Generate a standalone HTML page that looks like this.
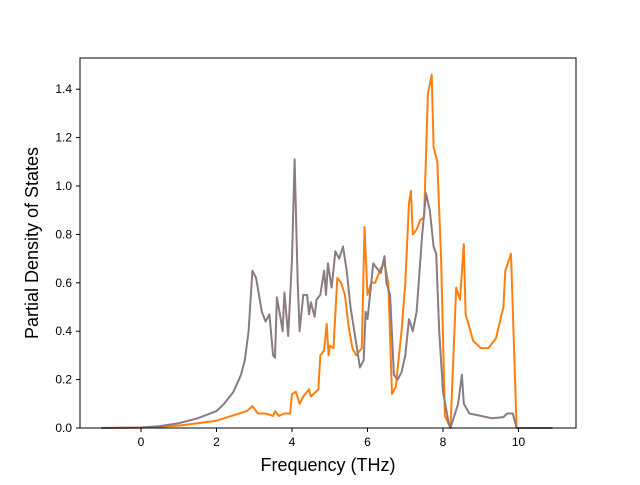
<!DOCTYPE html>
<html><head><meta charset="utf-8"><style>
body{margin:0;background:#fff}
svg text{font-family:"Liberation Sans","DejaVu Sans",sans-serif}
</style></head><body>
<svg id="chart" width="640" height="480" xmlns="http://www.w3.org/2000/svg">
<rect width="640" height="480" fill="#fff"/>
<g id="plot"></g>
<rect x="80" y="58" width="496" height="370" fill="none" stroke="#000" stroke-width="1"/>
<g id="axes"></g>
<text x="328" y="471" font-size="18" text-anchor="middle">Frequency (THz)</text>
<text transform="translate(38,243) rotate(-90)" font-size="18" text-anchor="middle">Partial Density of States</text>
</svg>
<script>
const xTicks=[0,2,4,6,8,10];
const yTicks=[0.0,0.2,0.4,0.6,0.8,1.0,1.2,1.4];
const grayF=[-1.06,0,0.5,1,1.5,2,2.2,2.45,2.65,2.75,2.85,2.95,3.05,3.2,3.3,3.4,3.5,3.55,3.6,3.7,3.75,3.8,3.9,4.0,4.07,4.15,4.2,4.3,4.4,4.45,4.5,4.6,4.65,4.75,4.85,4.9,4.95,5.05,5.15,5.25,5.35,5.45,5.55,5.7,5.8,5.9,5.95,6.0,6.1,6.15,6.25,6.35,6.45,6.5,6.6,6.7,6.8,6.9,7.0,7.1,7.2,7.3,7.45,7.55,7.65,7.75,7.82,7.9,8.0,8.15,8.2,8.3,8.4,8.5,8.55,8.7,9,9.3,9.6,9.7,9.85,9.95,10.9];
const grayV=[0,0.002,0.008,0.02,0.04,0.07,0.1,0.15,0.22,0.28,0.4,0.65,0.62,0.48,0.44,0.47,0.3,0.29,0.54,0.45,0.4,0.56,0.38,0.7,1.11,0.6,0.4,0.55,0.55,0.47,0.52,0.46,0.53,0.55,0.65,0.55,0.68,0.58,0.73,0.7,0.75,0.65,0.5,0.35,0.25,0.28,0.48,0.45,0.6,0.68,0.66,0.64,0.71,0.6,0.55,0.22,0.2,0.23,0.3,0.45,0.4,0.48,0.8,0.97,0.9,0.75,0.72,0.4,0.15,0.02,0,0.05,0.1,0.22,0.1,0.06,0.05,0.04,0.045,0.06,0.06,0,0];
const orangeF=[-1.06,0,1,1.5,2,2.4,2.8,2.95,3.1,3.3,3.5,3.55,3.65,3.8,3.95,4.0,4.1,4.2,4.3,4.45,4.5,4.7,4.75,4.85,4.92,4.97,5.0,5.1,5.2,5.3,5.4,5.5,5.6,5.7,5.85,5.92,6.0,6.1,6.2,6.35,6.45,6.55,6.65,6.75,6.9,7.0,7.1,7.15,7.2,7.3,7.4,7.5,7.6,7.7,7.75,7.85,7.95,8.05,8.2,8.35,8.45,8.55,8.6,8.8,9.0,9.2,9.4,9.6,9.65,9.8,9.95,10.9];
const orangeV=[0,0.001,0.01,0.02,0.03,0.05,0.07,0.09,0.06,0.06,0.05,0.07,0.05,0.06,0.06,0.14,0.15,0.1,0.13,0.16,0.13,0.16,0.3,0.32,0.43,0.3,0.34,0.33,0.62,0.6,0.55,0.42,0.33,0.3,0.33,0.83,0.55,0.6,0.6,0.66,0.68,0.6,0.14,0.17,0.4,0.6,0.93,0.98,0.8,0.82,0.86,0.87,1.38,1.46,1.16,1.1,0.7,0.05,0,0.58,0.53,0.76,0.47,0.36,0.33,0.33,0.37,0.5,0.65,0.72,0,0];
const X=f=>141+f*37.75, Y=v=>428-v*242;
const NS="http://www.w3.org/2000/svg";
const plot=document.getElementById('plot'), axes=document.getElementById('axes');
function line(F,V,color,name){
  const p=document.createElementNS(NS,'polyline');
  p.setAttribute('points',F.map((f,i)=>X(f).toFixed(1)+','+Y(V[i]).toFixed(1)).join(' '));
  p.setAttribute('fill','none');p.setAttribute('stroke',color);p.setAttribute('stroke-width','2');p.setAttribute('stroke-linejoin','round');
  
  
  plot.appendChild(p);
}
line(orangeF,orangeV,'#ff7f0e','orange-series-line');
line(grayF,grayV,'#8a7b84','gray-series-line');
xTicks.forEach(t=>{
  const l=document.createElementNS(NS,'line');
  l.setAttribute('x1',X(t));l.setAttribute('x2',X(t));l.setAttribute('y1',428);l.setAttribute('y2',432);l.setAttribute('stroke','#000');
  
  
  axes.appendChild(l);
  const s=document.createElementNS(NS,'text');
  s.setAttribute('x',X(t));s.setAttribute('y',446);s.setAttribute('font-size','12');s.setAttribute('text-anchor','middle');s.textContent=t;
  
  
  axes.appendChild(s);
});
yTicks.forEach(t=>{
  const l=document.createElementNS(NS,'line');
  l.setAttribute('x1',76);l.setAttribute('x2',80);l.setAttribute('y1',Y(t));l.setAttribute('y2',Y(t));l.setAttribute('stroke','#000');
  
  
  axes.appendChild(l);
  const s=document.createElementNS(NS,'text');
  s.setAttribute('x',72);s.setAttribute('y',Y(t)+4);s.setAttribute('font-size','12');s.setAttribute('text-anchor','end');s.textContent=t.toFixed(1);
  
  
  axes.appendChild(s);
});
</script>
</body></html>
